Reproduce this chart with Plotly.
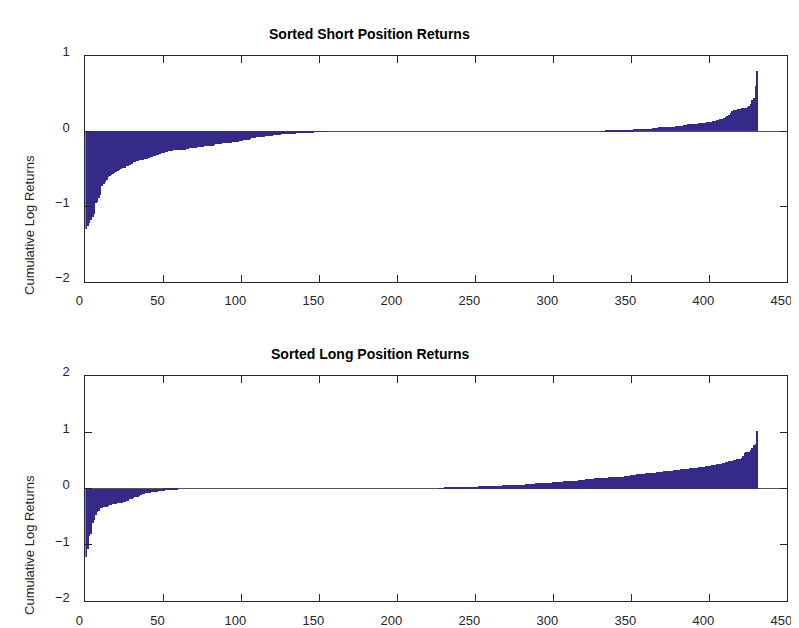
import plotly.graph_objects as go
from plotly.subplots import make_subplots

# ---------------- data ----------------
short_returns = [
    -1.29, -1.25, -1.21, -1.18, -1.13, -1.10, -0.95, -0.93, -0.88, -0.84,
    -0.72, -0.70, -0.67, -0.64, -0.61, -0.59, -0.58, -0.57, -0.55, -0.54,
    -0.52, -0.51, -0.50, -0.49, -0.49, -0.48, -0.46, -0.46, -0.44, -0.43,
    -0.41, -0.40, -0.39, -0.39, -0.38, -0.38, -0.38, -0.37, -0.37, -0.36,
    -0.35, -0.34, -0.34, -0.33, -0.32, -0.31, -0.31, -0.30, -0.29, -0.28,
    -0.28, -0.27, -0.27, -0.26, -0.26, -0.26, -0.25, -0.25, -0.25, -0.25,
    -0.24, -0.24, -0.24, -0.24, -0.23, -0.23, -0.22, -0.22, -0.22, -0.22,
    -0.22, -0.21, -0.21, -0.21, -0.21, -0.21, -0.20, -0.19, -0.19, -0.19,
    -0.19, -0.19, -0.18, -0.17, -0.17, -0.17, -0.17, -0.16, -0.16, -0.16,
    -0.16, -0.16, -0.15, -0.15, -0.14, -0.14, -0.14, -0.14, -0.13, -0.13,
    -0.13, -0.12, -0.11, -0.11, -0.11, -0.10, -0.09, -0.09, -0.09, -0.08,
    -0.08, -0.07, -0.07, -0.07, -0.07, -0.06, -0.06, -0.06, -0.06, -0.06,
    -0.05, -0.05, -0.05, -0.05, -0.05, -0.04, -0.04, -0.04, -0.04, -0.04,
    -0.03, -0.03, -0.03, -0.03, -0.03, -0.02, -0.02, -0.02, -0.02, -0.02,
    -0.015, -0.013, -0.012, -0.011, -0.010, -0.008, -0.007, -0.006, -0.005, -0.004,
    -0.003, -0.002, -0.002, -0.001, -0.001, 0, 0, 0, 0, 0,
    0, 0, 0, 0, 0, 0, 0, 0, 0, 0,
    0, 0, 0, 0, 0, 0, 0, 0, 0, 0,
    0, 0, 0, 0, 0, 0, 0, 0, 0, 0,
    0, 0, 0, 0, 0, 0, 0, 0, 0, 0,
    0, 0, 0, 0, 0, 0, 0, 0, 0, 0,
    0, 0, 0, 0, 0, 0, 0, 0, 0, 0,
    0, 0, 0, 0, 0, 0, 0, 0, 0, 0,
    0, 0, 0, 0, 0, 0, 0, 0, 0, 0,
    0, 0, 0, 0, 0, 0, 0, 0, 0, 0,
    0, 0, 0, 0, 0, 0, 0, 0, 0, 0,
    0, 0, 0, 0, 0, 0, 0, 0, 0, 0,
    0, 0, 0, 0, 0, 0, 0, 0, 0, 0,
    0, 0, 0, 0, 0, 0, 0, 0, 0, 0,
    0, 0, 0, 0, 0, 0, 0, 0, 0, 0,
    0, 0, 0, 0, 0, 0, 0, 0, 0, 0,
    0, 0, 0, 0, 0, 0, 0, 0, 0, 0,
    0, 0, 0, 0, 0, 0, 0, 0, 0, 0,
    0.003, 0.004, 0.005, 0.006, 0.008, 0.009, 0.010, 0.011, 0.012, 0.013,
    0.014, 0.016, 0.017, 0.017, 0.018, 0.018, 0.019, 0.019, 0.020, 0.020,
    0.021, 0.028, 0.029, 0.030, 0.030, 0.031, 0.031, 0.032, 0.032, 0.033,
    0.033, 0.034, 0.035, 0.042, 0.043, 0.044, 0.045, 0.055, 0.056, 0.056,
    0.057, 0.057, 0.058, 0.058, 0.059, 0.060, 0.061, 0.062, 0.068, 0.069,
    0.070, 0.071, 0.072, 0.080, 0.082, 0.084, 0.093, 0.094, 0.095, 0.096,
    0.097, 0.099, 0.101, 0.108, 0.110, 0.112, 0.114, 0.116, 0.123, 0.125,
    0.128, 0.131, 0.138, 0.141, 0.145, 0.155, 0.160, 0.168, 0.171, 0.175,
    0.19, 0.20, 0.22, 0.245, 0.27, 0.285, 0.29, 0.29, 0.295, 0.30,
    0.305, 0.31, 0.31, 0.315, 0.32, 0.34, 0.37, 0.41, 0.44, 0.60,
    0.80,
]

long_returns = [
    -1.22, -1.07, -0.84, -0.80, -0.61, -0.55, -0.47, -0.41, -0.39, -0.35,
    -0.34, -0.33, -0.33, -0.32, -0.30, -0.29, -0.29, -0.28, -0.27, -0.27,
    -0.26, -0.25, -0.25, -0.25, -0.24, -0.23, -0.22, -0.22, -0.19, -0.18,
    -0.16, -0.155, -0.15, -0.14, -0.13, -0.12, -0.10, -0.09, -0.085, -0.08,
    -0.075, -0.068, -0.065, -0.062, -0.06, -0.055, -0.045, -0.042, -0.04, -0.038,
    -0.035, -0.03, -0.022, -0.02, -0.018, -0.015, -0.012, -0.01, -0.006, -0.003,
    0, 0, 0, 0, 0, 0, 0, 0, 0, 0,
    0, 0, 0, 0, 0, 0, 0, 0, 0, 0,
    0, 0, 0, 0, 0, 0, 0, 0, 0, 0,
    0, 0, 0, 0, 0, 0, 0, 0, 0, 0,
    0, 0, 0, 0, 0, 0, 0, 0, 0, 0,
    0, 0, 0, 0, 0, 0, 0, 0, 0, 0,
    0, 0, 0, 0, 0, 0, 0, 0, 0, 0,
    0, 0, 0, 0, 0, 0, 0, 0, 0, 0,
    0, 0, 0, 0, 0, 0, 0, 0, 0, 0,
    0, 0, 0, 0, 0, 0, 0, 0, 0, 0,
    0, 0, 0, 0, 0, 0, 0, 0, 0, 0,
    0, 0, 0, 0, 0, 0, 0, 0, 0, 0,
    0, 0, 0, 0, 0, 0, 0, 0, 0, 0,
    0, 0, 0, 0, 0, 0, 0, 0, 0, 0,
    0, 0, 0, 0, 0, 0, 0, 0, 0, 0,
    0, 0, 0, 0, 0, 0, 0, 0, 0, 0,
    0, 0, 0, 0, 0, 0, 0.004, 0.006, 0.008, 0.010,
    0.014, 0.015, 0.015, 0.016, 0.016, 0.017, 0.017, 0.018, 0.018, 0.019,
    0.019, 0.020, 0.020, 0.030, 0.031, 0.032, 0.033, 0.034, 0.035, 0.036,
    0.037, 0.038, 0.039, 0.048, 0.049, 0.050, 0.050, 0.051, 0.051, 0.052,
    0.052, 0.053, 0.053, 0.054, 0.054, 0.055, 0.056, 0.057, 0.058, 0.060,
    0.066, 0.067, 0.067, 0.068, 0.068, 0.069, 0.070, 0.070, 0.071, 0.072,
    0.073, 0.074, 0.083, 0.085, 0.086, 0.087, 0.088, 0.089, 0.098, 0.099,
    0.100, 0.101, 0.102, 0.103, 0.104, 0.105, 0.106, 0.107, 0.108, 0.118,
    0.119, 0.120, 0.121, 0.122, 0.123, 0.124, 0.136, 0.137, 0.138, 0.139,
    0.140, 0.141, 0.142, 0.143, 0.144, 0.145, 0.153, 0.155, 0.156, 0.158,
    0.168, 0.170, 0.171, 0.172, 0.173, 0.174, 0.186, 0.188, 0.190, 0.192,
    0.194, 0.195, 0.196, 0.197, 0.198, 0.199, 0.200, 0.201, 0.202, 0.203,
    0.204, 0.205, 0.214, 0.215, 0.216, 0.217, 0.218, 0.219, 0.232, 0.235,
    0.238, 0.248, 0.250, 0.252, 0.265, 0.266, 0.267, 0.268, 0.269, 0.270,
    0.271, 0.272, 0.273, 0.283, 0.285, 0.287, 0.289, 0.291, 0.301, 0.303,
    0.305, 0.307, 0.309, 0.311, 0.318, 0.320, 0.322, 0.324, 0.335, 0.337,
    0.339, 0.341, 0.343, 0.352, 0.354, 0.356, 0.358, 0.360, 0.362, 0.364,
    0.371, 0.373, 0.375, 0.386, 0.388, 0.390, 0.392, 0.394, 0.405, 0.408,
    0.411, 0.421, 0.424, 0.427, 0.430, 0.440, 0.443, 0.446, 0.458, 0.462,
    0.476, 0.480, 0.484, 0.490, 0.494, 0.506, 0.512, 0.525, 0.530, 0.535,
    0.550, 0.575, 0.630, 0.645, 0.650, 0.655, 0.680, 0.720, 0.770, 0.790,
    1.03,
]

titles = ["Sorted Short Position Returns", "Sorted Long Position Returns"]
y_label = "Cumulative Log Returns"
x_ticks = [0, 50, 100, 150, 200, 250, 300, 350, 400, 450]
top_y_ticks = [-2, -1, 0, 1]
bottom_y_ticks = [-2, -1, 0, 1, 2]

# ---------------- figure ----------------
# The page body has the browser's default 8px margin, so the figure is drawn
# 8px in from the top-left of the window; sizes/positions are compensated.
OFF = 8
W, H = 799 - OFF, 628 - OFF
BAR_COLOR = "#352a87"
AXIS_COLOR = "#262626"
FONT = "Liberation Sans, Arial, Helvetica, sans-serif"


def px_x(px):
    return (px - OFF) / W


def px_y(py):
    return 1 - (py - OFF) / H


fig = make_subplots(rows=2, cols=1)

fig.add_trace(go.Bar(x=list(range(1, len(short_returns) + 1)), y=short_returns,
                     width=1, marker=dict(color=BAR_COLOR, line=dict(width=0)),
                     showlegend=False), row=1, col=1)
fig.add_trace(go.Bar(x=list(range(1, len(long_returns) + 1)), y=long_returns,
                     width=1, marker=dict(color=BAR_COLOR, line=dict(width=0)),
                     showlegend=False), row=2, col=1)

x_dom = [px_x(76.7), px_x(792.3)]
top_dom = [px_y(278.3), px_y(45.7)]
bot_dom = [px_y(606.7), px_y(375.0)]

common_x = dict(range=[0, 450], tickvals=x_ticks, ticks="inside", ticklen=7,
                tickcolor=AXIS_COLOR, showline=True, linecolor=AXIS_COLOR,
                linewidth=1, mirror="ticks", showgrid=False, zeroline=False,
                tickfont=dict(size=13, color="#262626", family=FONT),
                ticklabelstandoff=7, ticklabelshift=-6, domain=x_dom)
common_y = dict(ticks="inside", ticklen=7, tickcolor=AXIS_COLOR, showline=True,
                linecolor=AXIS_COLOR, linewidth=1, mirror="ticks",
                showgrid=False, zeroline=True, zerolinecolor="#555555",
                zerolinewidth=1,
                tickfont=dict(size=13, color="#262626", family=FONT),
                ticklabelstandoff=12, ticklabelshift=-4)

fig.update_layout(
    width=W, height=H,
    margin=dict(l=0, r=0, t=0, b=0),
    paper_bgcolor="white", plot_bgcolor="white",
    bargap=0, showlegend=False,
    font=dict(family=FONT, color="#262626"),
    xaxis=dict(common_x, anchor="y"),
    xaxis2=dict(common_x, anchor="y2"),
    yaxis=dict(common_y, range=[-2, 1], tickvals=top_y_ticks, domain=top_dom, anchor="x"),
    yaxis2=dict(common_y, range=[-2, 2], tickvals=bottom_y_ticks, domain=bot_dom, anchor="x2"),
)

annotations = [
    dict(text="<b>%s</b>" % titles[0], x=px_x(366.5), y=px_y(23), xref="paper", yref="paper",
         xanchor="center", yanchor="middle", showarrow=False,
         font=dict(size=14, color="#000000", family=FONT)),
    dict(text="<b>%s</b>" % titles[1], x=px_x(367), y=px_y(352), xref="paper", yref="paper",
         xanchor="center", yanchor="middle", showarrow=False,
         font=dict(size=14, color="#000000", family=FONT)),
    dict(text=y_label, x=px_x(19), y=px_y(220), xref="paper", yref="paper",
         xanchor="center", yanchor="middle", textangle=-90, showarrow=False,
         font=dict(size=13, color="#262626", family=FONT)),
    dict(text=y_label, x=px_x(19), y=px_y(549), xref="paper", yref="paper",
         xanchor="center", yanchor="middle", textangle=-90, showarrow=False,
         font=dict(size=13, color="#262626", family=FONT)),
]
fig.update_layout(annotations=annotations)

fig.write_html("out.html")
